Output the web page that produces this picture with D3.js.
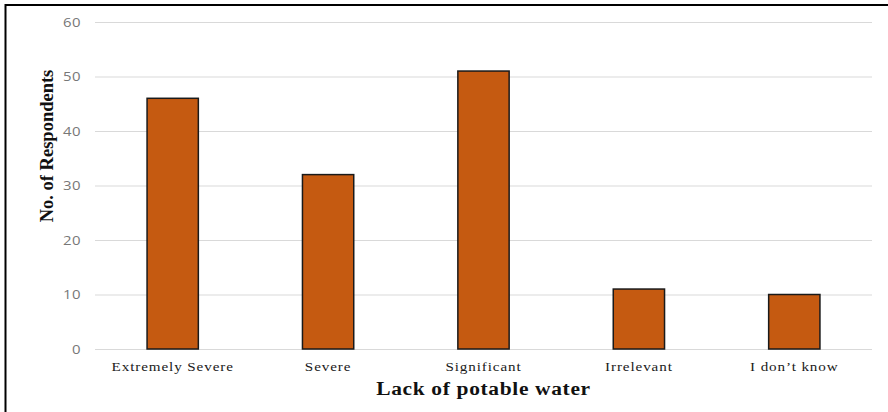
<!DOCTYPE html>
<html>
<head>
<meta charset="utf-8">
<script src="https://cdn.jsdelivr.net/npm/d3@7"></script>
<style>
  html, body { margin: 0; padding: 0; background: #fff; }
  svg { display: block; }
</style>
</head>
<body>
<svg id="chart" width="888" height="412"></svg>
<script>
// Survey responses: perceived severity of the lack of potable water
const categories = ["Extremely Severe", "Severe", "Significant", "Irrelevant", "I don\u2019t know"];
const respondents = [46, 32, 51, 11, 10];
const yTicks = [0, 10, 20, 30, 40, 50, 60];
const yTitle = "No. of Respondents";
const xTitle = "Lack of potable water";

const svg = d3.select("#chart");
const W = 888, H = 412;
const plot = { left: 95, right: 872, top: 22, bottom: 349 };

// outer frame (clipped at the right and bottom edges)
svg.append("rect")
  .attr("x", 5.5).attr("y", 5)
  .attr("width", W + 10).attr("height", H + 10)
  .attr("fill", "none").attr("stroke", "#000").attr("stroke-width", 2);

const x = d3.scaleBand()
  .domain(categories)
  .range([plot.left, plot.right])
  .paddingInner(0.67)
  .paddingOuter(0.335);

const y = d3.scaleLinear()
  .domain([0, 60])
  .range([plot.bottom, plot.top]);

// horizontal gridlines
svg.append("g")
  .selectAll("line")
  .data(yTicks)
  .join("line")
  .attr("x1", plot.left).attr("x2", plot.right)
  .attr("y1", d => y(d) + 0.5).attr("y2", d => y(d) + 0.5)
  .attr("stroke", "#d9d9d9").attr("stroke-width", 1.2);

// y axis tick labels (slightly widened glyphs)
const yAxis = d3.axisLeft(y).tickValues(yTicks).tickSize(0).tickPadding(0);
const gy = svg.append("g")
  .attr("transform", `translate(${plot.left - 14},0)`)
  .call(yAxis);
gy.select(".domain").remove();
gy.selectAll("text")
  .attr("fill", "#777")
  .attr("font-family", "'Open Sans', 'Noto Sans', sans-serif")
  .attr("font-size", 13)
  .attr("letter-spacing", 0.4)
  .attr("transform", "scale(1.15,1)");

// bars
svg.append("g")
  .selectAll("rect")
  .data(categories)
  .join("rect")
  .attr("x", d => x(d))
  .attr("y", (d, i) => y(respondents[i]))
  .attr("width", x.bandwidth())
  .attr("height", (d, i) => y(0) - y(respondents[i]))
  .attr("fill", "#c55a11")
  .attr("stroke", "#1a1a1a")
  .attr("stroke-width", 1.5);

// x axis category labels
const xAxis = d3.axisBottom(x).tickSize(0).tickPadding(0);
const gx = svg.append("g")
  .attr("transform", `translate(0,${plot.bottom + 22})`)
  .call(xAxis);
gx.select(".domain").remove();
gx.selectAll("text")
  .attr("dy", 0)
  .attr("fill", "#1a1a1a")
  .attr("font-family", "'Liberation Serif', 'Times New Roman', serif")
  .attr("font-size", 13.5)
  .attr("letter-spacing", 0.8)
  .attr("transform", "scale(1.12,1)");

// axis titles
svg.append("text")
  .attr("transform", `translate(${(plot.left + plot.right) / 2},395) scale(1.1,1)`)
  .attr("text-anchor", "middle")
  .attr("font-family", "'Liberation Serif', 'Times New Roman', serif")
  .attr("font-weight", "bold")
  .attr("font-size", 19.5)
  .attr("letter-spacing", 0.6)
  .attr("fill", "#111")
  .text(xTitle);

svg.append("text")
  .attr("transform", `translate(53,146) rotate(-90)`)
  .attr("text-anchor", "middle")
  .attr("font-family", "'Liberation Serif', 'Times New Roman', serif")
  .attr("font-weight", "bold")
  .attr("font-size", 18.5)
  .attr("fill", "#111")
  .text(yTitle);
</script>
</body>
</html>
